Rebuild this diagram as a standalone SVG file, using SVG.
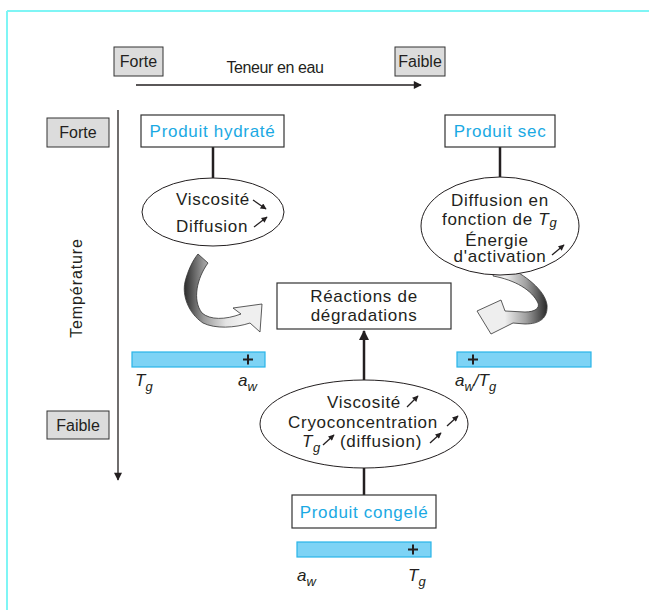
<svg xmlns="http://www.w3.org/2000/svg" width="649" height="610" viewBox="0 0 649 610">
<style>
text{font-family:"Liberation Sans",Arial,sans-serif;fill:#231f20}
.lbl{font-size:16px}
.nd{font-size:17px;letter-spacing:0.7px}
.cy{fill:#1aa9e3}
.it{font-style:italic;font-size:17px}
.sub{font-style:italic;font-size:13px}
.gbox{fill:#dcdcdc;stroke:#333;stroke-width:1}
.box{fill:#fff;stroke:#333;stroke-width:1.2}
.ell{fill:#fff;stroke:#231f20;stroke-width:1}
.bar{fill:#7dd3f5;stroke:#29b5e8;stroke-width:1.2}
.con{stroke:#231f20;stroke-width:2.5;fill:none}
.sm{stroke:#231f20;stroke-width:1.3;fill:none;marker-end:url(#sh)}
.plus{stroke:#231f20;stroke-width:2}
</style>
<defs>
<marker id="ah" viewBox="0 0 10 10" refX="9" refY="5" markerWidth="10" markerHeight="8" markerUnits="userSpaceOnUse" orient="auto">
<path d="M0,0 L10,5 L0,10 z" fill="#231f20"/>
</marker>
<marker id="ahb" viewBox="0 0 10 10" refX="9" refY="5" markerWidth="14" markerHeight="10" markerUnits="userSpaceOnUse" orient="auto">
<path d="M0,0 L10,5 L0,10 z" fill="#231f20"/>
</marker>
<marker id="sh" viewBox="0 0 10 10" refX="9" refY="5" markerWidth="7" markerHeight="6" markerUnits="userSpaceOnUse" orient="auto">
<path d="M0,0 L10,5 L0,10 z" fill="#231f20"/>
</marker>
<linearGradient id="gl" gradientUnits="userSpaceOnUse" x1="184" y1="0" x2="240" y2="0">
<stop offset="0" stop-color="#2a2a2a"/>
<stop offset="0.35" stop-color="#9a9a9a"/>
<stop offset="0.75" stop-color="#e4e4e4"/>
<stop offset="1" stop-color="#efefef"/>
</linearGradient>
<linearGradient id="gr" gradientUnits="userSpaceOnUse" x1="505" y1="0" x2="547" y2="0">
<stop offset="0" stop-color="#eeeeee"/>
<stop offset="0.5" stop-color="#a0a0a0"/>
<stop offset="1" stop-color="#2a2a2a"/>
</linearGradient>
</defs>

<g id="frame">
<line x1="7" y1="11" x2="649" y2="11" stroke="#7ff5f5" stroke-width="2"/>
<line x1="7" y1="11" x2="7" y2="610" stroke="#7ff5f5" stroke-width="2"/>
</g>

<g id="axis-water">
<rect class="gbox" x="114" y="47" width="49" height="29"/>
<text class="lbl" x="138.5" y="67" text-anchor="middle">Forte</text>
<rect class="gbox" x="395" y="47" width="50" height="29"/>
<text class="lbl" x="420" y="67" text-anchor="middle">Faible</text>
<text class="lbl" x="275" y="73" text-anchor="middle" style="letter-spacing:-0.4px">Teneur en eau</text>
<line x1="136" y1="85" x2="421" y2="85" stroke="#231f20" stroke-width="1.3" marker-end="url(#ah)"/>
</g>

<g id="axis-temp">
<line x1="118" y1="110" x2="118" y2="480" stroke="#231f20" stroke-width="1.3" marker-end="url(#ah)"/>
<rect class="gbox" x="47" y="118" width="62" height="29"/>
<text class="lbl" x="78" y="138" text-anchor="middle">Forte</text>
<rect class="gbox" x="47" y="411" width="62" height="28"/>
<text class="lbl" x="78" y="431" text-anchor="middle">Faible</text>
<text class="lbl" x="0" y="0" text-anchor="middle" transform="translate(82,288) rotate(-90)" style="letter-spacing:0.9px">Température</text>
</g>

<g id="connectors">
<line class="con" x1="213" y1="147" x2="213" y2="178"/>
<line class="con" x1="500" y1="147" x2="500" y2="177"/>
<line class="con" x1="364" y1="468" x2="364" y2="495"/>
<line x1="364" y1="380" x2="364" y2="331" stroke="#231f20" stroke-width="2.5" marker-end="url(#ahb)"/>
<path d="M198,254 L208,263 C197,278 192,300 202,313 C210,320 225,320 241,314 L233,308 L262,304 L260,332 L250,323 C235,328 215,329 203,323 C188,313 182,295 185,282 C188,270 193,260 198,254 Z" fill="url(#gl)" stroke="#333" stroke-width="0.8"/>
<path d="M495,270 L506,266 C525,275 545,290 547,305 C548,318 540,324 525,324 L513,323 L491,334 L477,311 L501,300 L505,311 L525,312 C535,312 540,308 538,303 C532,290 515,280 493,276 Z" fill="url(#gr)" stroke="#333" stroke-width="0.8"/>
</g>

<g id="produit-hydrate">
<rect class="box" x="141" y="115" width="143" height="32"/>
<text class="nd cy" x="212.5" y="137" text-anchor="middle">Produit hydraté</text>
</g>

<g id="ellipse-hydrate">
<ellipse class="ell" cx="213" cy="212" rx="71" ry="34"/>
<text class="nd" x="176" y="205">Viscosité</text>
<text class="nd" x="176" y="232">Diffusion</text>
<line class="sm" x1="253" y1="200" x2="266" y2="209"/>
<line class="sm" x1="254" y1="227" x2="267" y2="217"/>
</g>

<g id="produit-sec">
<rect class="box" x="445" y="115" width="110" height="32"/>
<text class="nd cy" x="500" y="137" text-anchor="middle">Produit sec</text>
</g>

<g id="ellipse-sec">
<ellipse class="ell" cx="500" cy="226" rx="79" ry="49"/>
<text class="nd" x="500" y="206" text-anchor="middle">Diffusion en</text>
<text class="nd" x="442" y="225">fonction de <tspan class="it">T</tspan><tspan class="sub" dy="2">g</tspan></text>
<text class="nd" x="497" y="246" text-anchor="middle">Énergie</text>
<text class="nd" x="500" y="262" text-anchor="middle">d'activation</text>
<line class="sm" x1="552" y1="255" x2="564" y2="245"/>
</g>

<g id="reactions">
<rect class="box" x="277" y="283" width="174" height="46"/>
<text class="nd" x="364" y="302" text-anchor="middle">Réactions de</text>
<text class="nd" x="364" y="321" text-anchor="middle">dégradations</text>
</g>

<g id="ellipse-congele">
<ellipse class="ell" cx="364" cy="424" rx="104" ry="44"/>
<text class="nd" x="364" y="408" text-anchor="middle">Viscosité</text>
<text class="nd" x="363" y="428" text-anchor="middle">Cryoconcentration</text>
<text class="nd" x="302" y="447"><tspan class="it">T</tspan><tspan class="sub" dy="5">g</tspan></text>
<text class="nd" x="340" y="447">(diffusion)</text>
<line class="sm" x1="407" y1="407" x2="418" y2="396"/>
<line class="sm" x1="447" y1="426" x2="458" y2="416"/>
<line class="sm" x1="323" y1="445" x2="334" y2="435"/>
<line class="sm" x1="430" y1="443" x2="441" y2="433"/>
</g>

<g id="produit-congele">
<rect class="box" x="292" y="495" width="144" height="33"/>
<text class="nd cy" x="364" y="518" text-anchor="middle">Produit congelé</text>
</g>

<g id="bar-left">
<rect class="bar" x="132" y="352" width="133" height="15"/>
<line class="plus" x1="243" y1="359.5" x2="253" y2="359.5"/>
<line class="plus" x1="248" y1="354.5" x2="248" y2="364.5"/>
<text x="135" y="386"><tspan class="it">T</tspan><tspan class="sub" dy="5">g</tspan></text>
<text x="238" y="386"><tspan class="it">a</tspan><tspan class="sub" dy="5">w</tspan></text>
</g>

<g id="bar-right">
<rect class="bar" x="457" y="352" width="134" height="15"/>
<line class="plus" x1="468" y1="359.5" x2="478" y2="359.5"/>
<line class="plus" x1="473" y1="354.5" x2="473" y2="364.5"/>
<text x="455" y="386"><tspan class="it">a</tspan><tspan class="sub" dy="5">w</tspan><tspan class="it" dy="-5">/T</tspan><tspan class="sub" dy="5">g</tspan></text>
</g>

<g id="bar-bottom">
<rect class="bar" x="297" y="542" width="134" height="15"/>
<line class="plus" x1="408" y1="549.5" x2="418" y2="549.5"/>
<line class="plus" x1="413" y1="544.5" x2="413" y2="554.5"/>
<text x="297" y="581"><tspan class="it">a</tspan><tspan class="sub" dy="5">w</tspan></text>
<text x="408" y="581"><tspan class="it">T</tspan><tspan class="sub" dy="5">g</tspan></text>
</g>
</svg>
